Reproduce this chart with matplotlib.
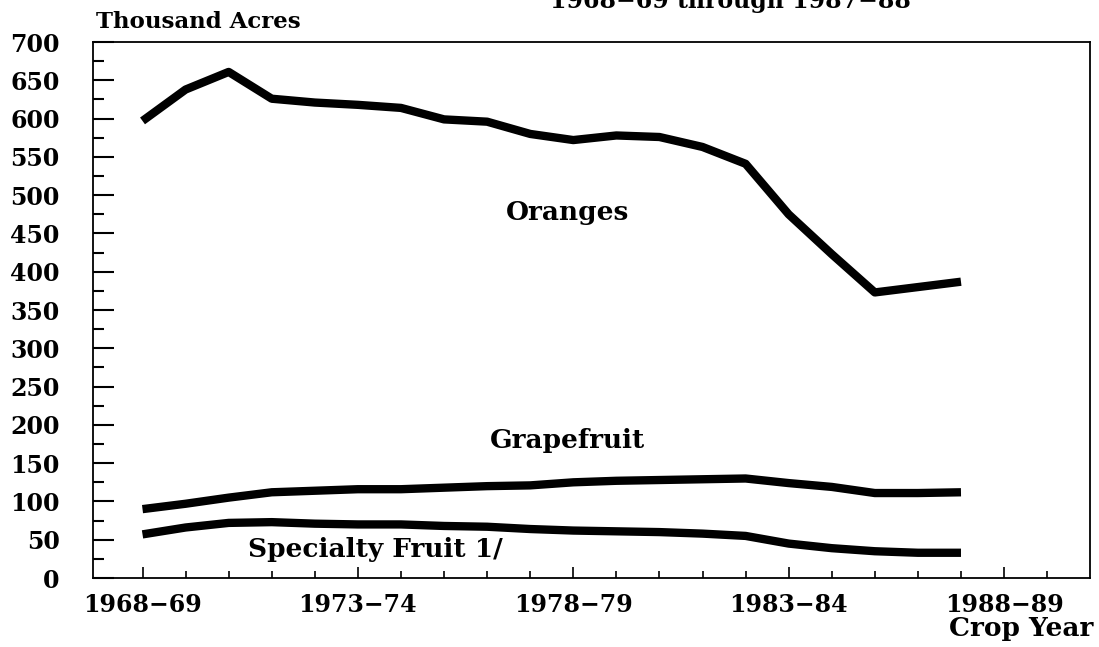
import matplotlib.pyplot as plt
from matplotlib.ticker import MultipleLocator

# crop years 1968-69 .. 1987-88 (first year of the season)
years = list(range(1968, 1988))
oranges = [597, 638, 661, 626, 621, 618, 614, 599, 596, 580,
           572, 578, 576, 563, 541, 475, 423, 373, 380, 387]
grapefruit = [90, 97, 105, 112, 114, 116, 116, 118, 120, 121,
              125, 127, 128, 129, 130, 124, 119, 111, 111, 112]
specialty = [57, 66, 72, 73, 71, 70, 70, 68, 67, 64,
             62, 61, 60, 58, 55, 45, 39, 35, 33, 33]
tick_years = [1968, 1973, 1978, 1983, 1988]
tick_labels = ["1968\u221269", "1973\u221274", "1978\u221279", "1983\u221284", "1988\u221289"]

font = {"family": "DejaVu Serif", "weight": "bold", "size": 17}
big = {"family": "DejaVu Serif", "weight": "bold", "size": 19}

fig = plt.figure(figsize=(10.99, 6.47), dpi=100)
ax = fig.add_axes([0.0846, 0.1066, 0.9074, 0.8284])

for vals in (oranges, grapefruit, specialty):
    ax.plot(years, vals, color="black", lw=6, solid_capstyle="butt",
            solid_joinstyle="round")

ax.set_xlim(1966.85, 1990)
ax.set_ylim(0, 700)
ax.set_xticks(tick_years)
ax.set_xticklabels(tick_labels, fontdict=font)
ax.set_xticks(range(1968, 1990), minor=True)
ax.set_yticks(range(0, 701, 50))
ax.set_yticklabels([str(v) for v in range(0, 701, 50)], fontdict=font)
ax.yaxis.set_minor_locator(MultipleLocator(25))

ax.tick_params(axis="y", which="major", direction="in", length=15, width=1.5, pad=24)
ax.tick_params(axis="y", which="minor", direction="in", length=8, width=1.5)
ax.tick_params(axis="x", which="major", direction="in", length=8, width=1.2, pad=11)
ax.tick_params(axis="x", which="minor", direction="in", length=5, width=1.2)
for s in ax.spines.values():
    s.set_linewidth(1.3)

ax.text(1977.86, 478, "Oranges", ha="center", va="center", fontdict=big)
ax.text(1977.86, 179, "Grapefruit", ha="center", va="center", fontdict=big)
ax.text(1970.44, 37, "Specialty Fruit 1/", ha="left", va="center", fontdict=big)

fig.text(0.087, 0.966, "Thousand Acres", ha="left", va="center",
         fontdict={"family": "DejaVu Serif", "weight": "bold", "size": 16.5})
fig.text(0.995, 0.017, "Crop Year", ha="right", va="baseline", fontdict=big)
fig.text(0.665, 0.988, "1968\u221269 through 1987\u221288", ha="center", va="baseline",
         fontdict=font)

fig.savefig("out.png", dpi=100)
